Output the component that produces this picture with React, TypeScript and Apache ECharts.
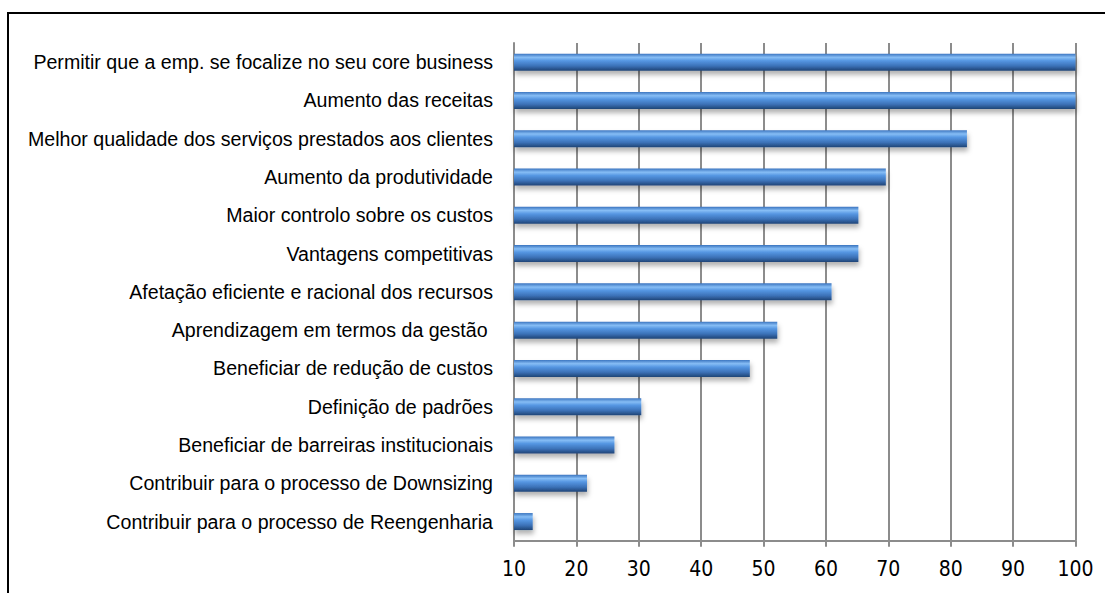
import React, { useEffect, useRef } from "react";
import * as echarts from "echarts";

const categories = [
  "Permitir que a emp. se focalize no seu core business",
  "Aumento das receitas",
  "Melhor qualidade dos serviços prestados aos clientes",
  "Aumento da produtividade",
  "Maior controlo sobre os custos",
  "Vantagens competitivas",
  "Afetação eficiente e racional dos recursos",
  "Aprendizagem em termos da gestão ",
  "Beneficiar de redução de custos",
  "Definição de padrões",
  "Beneficiar de barreiras institucionais",
  "Contribuir para o processo de Downsizing",
  "Contribuir para o processo de Reengenharia",
];

const values = [100, 100, 82.6, 69.6, 65.2, 65.2, 60.9, 52.2, 47.8, 30.4, 26.1, 21.7, 13.0];

const FONT = "'Liberation Sans', Arial, sans-serif";
const NARROW = "'Liberation Sans Narrow', 'Arial Narrow', 'DejaVu Sans Condensed', 'Liberation Sans', Arial, sans-serif";

export default function App() {
  const ref = useRef<HTMLDivElement>(null);
  useEffect(() => {
    if (!ref.current) return;
    const chart = echarts.init(ref.current, null, { renderer: "svg" });
    chart.setOption({
      animation: false,
      backgroundColor: "#ffffff",
      graphic: [
        {
          type: "rect",
          shape: { x: 8, y: 13, width: 1200, height: 700 },
          style: { fill: "none", stroke: "#000000", lineWidth: 2 },
          z: -1,
        },
      ],
      grid: { left: 514, right: 29.5, top: 43, bottom: 52.3, containLabel: false, outerBoundsMode: "none" },
      xAxis: {
        type: "value",
        min: 10,
        max: 100,
        interval: 10,
        axisLine: { show: true, lineStyle: { color: "#8c8c8c", width: 2 } },
        axisTick: { show: true, length: 6, lineStyle: { color: "#8c8c8c", width: 2 } },
        splitLine: { show: true, lineStyle: { color: "#8c8c8c", width: 2 } },
        axisLabel: { color: "#000000", fontSize: 21, fontFamily: NARROW, margin: 18 },
      },
      yAxis: {
        type: "category",
        inverse: true,
        data: categories,
        axisLine: { show: true, lineStyle: { color: "#8c8c8c", width: 2 } },
        axisTick: { show: false },
        axisLabel: { color: "#000000", fontSize: 19.6, fontFamily: FONT, margin: 21 },
      },
      series: [
        {
          type: "bar",
          data: values,
          barWidth: 17,
          itemStyle: {
            color: new echarts.graphic.LinearGradient(0, 0, 0, 1, [
              { offset: 0, color: "#3a74bf" },
              { offset: 0.22, color: "#86bdf5" },
              { offset: 0.42, color: "#5596e2" },
              { offset: 0.72, color: "#3c72b8" },
              { offset: 1, color: "#1f4476" },
            ]),
            shadowColor: "rgba(0,0,0,0.3)",
            shadowBlur: 5,
            shadowOffsetY: 4,
            shadowOffsetX: 1,
          },
        },
      ],
    });
    return () => chart.dispose();
  }, []);
  return <div ref={ref} style={{ width: 1105, height: 593, position: "absolute", left: 0, top: 0 }} />;
}
